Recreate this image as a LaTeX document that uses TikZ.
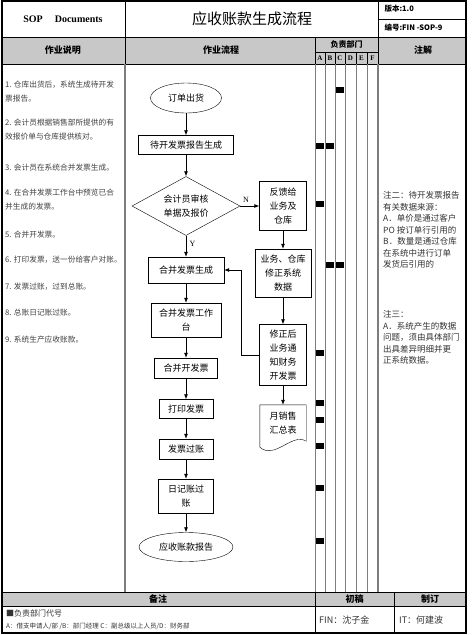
\documentclass[tikz,border=0pt]{standalone}
\usepackage{fontspec}
\setmainfont{Liberation Serif}
\newfontfamily\cjk{Noto Sans CJK SC}
\usepackage{tikz}
\usetikzlibrary{arrows.meta}
\usetikzlibrary{shapes.geometric}
\definecolor{headgray}{RGB}{200,200,200}
\definecolor{rulegray}{RGB}{125,125,125}

\begin{document}
\begin{tikzpicture}[x=1pt, y=-1pt, font=\cjk\fontsize{9}{14}\selectfont,
        flowbox/.style={draw, align=center, inner sep=1pt},
        oval/.style={flowbox, ellipse},
        check/.style={flowbox, diamond, aspect=1.8, inner sep=0pt},
        flow/.style={-{Latex[length=5pt,width=4pt]}, line width=0.7pt},
        tableline/.style={rulegray, line width=0.8pt},
        headtext/.style={font=\cjk\bfseries\fontsize{9}{11}\selectfont},
        itemtext/.style={anchor=north west, align=left, inner sep=0pt, text=black!75, font=\cjk\fontsize{7.7}{14}\selectfont},
        notetext/.style={anchor=north west, align=left, inner sep=0pt, text=black!80, font=\cjk\fontsize{8.5}{11.5}\selectfont}]
    \useasboundingbox (0,0) rectangle (474,635);
    % frame and header rows
    \fill[headgray] (2,37) rectangle (466,64);
    \fill[headgray] (2,592) rectangle (466,606);
    \draw (2,37) -- (466,37);
    \draw (2,64) -- (466,64);
    \draw (2,592) -- (466,592);
    \draw (2,606) -- (466,606);
    \draw (378,19) -- (466,19);
    \draw (315,52) -- (378,52);
    \draw (125,1) -- (125,64);
    \draw (378,1) -- (378,64);
    \draw (315,37) -- (315,633);
    \draw (394,592) -- (394,633);
    \foreach \x in {325,335,345,356,367}
        \draw (\x,52) -- (\x,64);
    \draw[tableline, line width=1.4pt] (125,64) -- (125,592);
    \draw[tableline, line width=1.4pt] (378,64) -- (378,592);
    \foreach \x in {315,325,335,345,356,367}
        \draw[tableline] (\x,64) -- (\x,592);
    \draw[line width=1.8pt] (2,1) rectangle (466,633);

    \node[font=\bfseries\fontsize{10}{12}\selectfont] (sop) at (63,19) {SOP\hspace{1.2em}Documents};
    \node[font=\cjk\fontsize{15}{18}\selectfont] (title) at (252,19) {应收账款生成流程};
    \node[anchor=west, font=\cjk\bfseries\fontsize{7.5}{9}\selectfont] (version) at (381,9) {版本:1.0};
    \node[anchor=west, font=\cjk\bfseries\fontsize{7.5}{9}\selectfont] (docno) at (381,28) {编号:FIN -SOP-9};
    \node[headtext] (desc) at (63,50) {作业说明};
    \node[headtext] (proc) at (221,50) {作业流程};
    \node[headtext, font=\cjk\bfseries\fontsize{8}{10}\selectfont] (dept) at (346.5,44.5) {负责部门};
    \node[headtext] (remark) at (423,50) {注解};
    \foreach \l/\x in {A/320,B/330,C/340,D/350.5,E/361.5,F/372.5}
        \node[font=\bfseries\fontsize{7}{8}\selectfont, inner sep=0pt] (col\l) at (\x,58.5) {\l};

    % steps on the left
    \foreach \y/\t [count=\i] in {81/{1. 仓库出货后，系统生成待开发\\票报告。},
            119/{2. 会计员根据销售部所提供的有\\效报价单与仓库提供核对。},
            164/{3. 会计员在系统合并发票生成。},
            189/{4. 在合并发票工作台中预览已合\\并生成的发票。},
            231/{5. 合并开发票。},
            256/{6. 打印发票，送一份给客户对账。},
            283/{7. 发票过账，过到总账。},
            309/{8. 总账日记账过账。},
            336/{9. 系统生产应收账款。}}
        \node[itemtext] (item\i) at (5,\y) {\t};

    % flow
    \node[oval, minimum width=71, minimum height=30] (order) at (186,98) {订单出货};
    \node[flowbox, minimum width=95, minimum height=19] (pending) at (186,145) {待开发票报告生成};
    \node[check, minimum width=108, minimum height=59] (audit) at (186,206) {会计员审核\\单据及报价};
    \node[flowbox, minimum width=47, minimum height=49] (feedback) at (283,206) {反馈给\\业务及\\仓库};
    \node[flowbox, minimum width=56, minimum height=48] (fixdata) at (283,273) {业务、仓库\\修正系统\\数据};
    \node[flowbox, minimum width=47, minimum height=61] (notify) at (283,355) {修正后\\业务通\\知财务\\开发票};
    \node[align=center, inner sep=1pt, minimum width=46, minimum height=36] (sales) at (283,423) {月销售\\汇总表};
    \draw (sales.north west) -- (sales.north east) -- (sales.south east)
        .. controls +(-14,-9) and +(15,13) .. ([yshift=-6pt]sales.south west) -- cycle;
    \node[flowbox, minimum width=76, minimum height=26] (merge) at (186,270) {合并发票生成};
    \node[flowbox, minimum width=70, minimum height=34] (bench) at (186,320) {合并发票工作\\台};
    \node[flowbox, minimum width=63, minimum height=20] (issue) at (186,368) {合并开发票};
    \node[flowbox, minimum width=54, minimum height=19] (print) at (186,409) {打印发票};
    \node[flowbox, minimum width=54, minimum height=20] (post) at (186,449) {发票过账};
    \node[flowbox, minimum width=55, minimum height=34] (journal) at (186,496) {日记账过\\账};
    \node[oval, minimum width=94, minimum height=29] (report) at (186,547) {应收账款报告};

    \draw[flow] (order) -- (pending);
    \draw[flow] (pending) -- (audit);
    \draw[flow] (audit) -- node[above, pos=.3, font=\fontsize{8}{9}\selectfont] {N} (feedback);
    \draw[flow] (audit) -- node[right, pos=.4, font=\fontsize{8}{9}\selectfont] {Y} (merge);
    \draw[flow] (feedback) -- (fixdata);
    \draw[flow] (fixdata) -- (notify);
    \draw[flow] (notify) -- (sales);
    \draw[flow] (notify.west) -- ++(-17.5,0) |- (merge.east);
    \foreach \a/\b in {merge/bench, bench/issue, issue/print, print/post, post/journal, journal/report}
        \draw[flow] (\a) -- (\b);

    % who is in charge
    \foreach \x/\y in {340/90, 320/146, 330/146, 320/204, 330/265, 340/265,
                       320/353, 320/403, 320/420, 320/446, 320/488, 320/541}
        \fill (\x-4,\y-3.2) rectangle +(8,6.5);

    % notes
    \node[notetext] (note2) at (383,191.5) {注二：待开发票报告\\有关数据来源：\\A．单价是通过客户\\PO 按订单行引用的\\B．数量是通过仓库\\在系统中进行订单\\发货后引用的};
    \node[notetext] (note3) at (383,310.5) {注三：\\A．系统产生的数据\\问题，须由具体部门\\出具差异明细并更\\正系统数据。};

    % footer
    \node[headtext] (memo) at (158,599) {备注};
    \node[headtext] (draft) at (354.5,599) {初稿};
    \node[headtext] (made) at (430,599) {制订};
    \node[anchor=west, inner sep=0pt, text=black!80, font=\cjk\fontsize{8}{10}\selectfont] (legend) at (6,613) {■负责部门代号};
    \node[anchor=west, inner sep=0pt, text=black!80, font=\cjk\fontsize{6.5}{8}\selectfont] (codes) at (6,626) {A：借支申请人/部 /B：部门经理 C：副总级以上人员/D：财务部};
    \node[anchor=west, inner sep=0pt, text=black!80] (drafter) at (319,620) {FIN：沈子金};
    \node[anchor=west, inner sep=0pt, text=black!80] (maker) at (399,620) {IT：何建波};
\end{tikzpicture}
\end{document}
